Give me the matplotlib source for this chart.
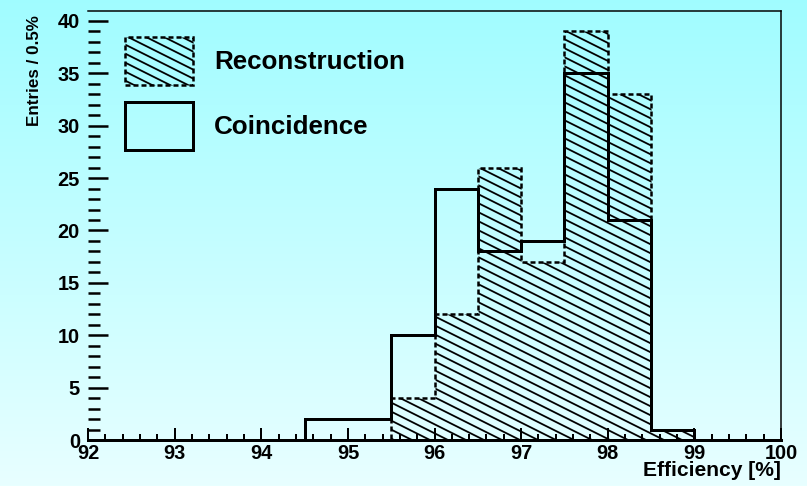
"""Efficiency histogram: reconstruction vs coincidence, ROOT-style look."""

import numpy as np
import matplotlib

matplotlib.use("Agg")
import matplotlib.hatch as mhatch
import matplotlib.pyplot as plt
from matplotlib.patches import Patch
from matplotlib.path import Path
from matplotlib.ticker import MultipleLocator

# bin edges (0.5 % wide) and counts per bin
edges = [92.0, 92.5, 93.0, 93.5, 94.0, 94.5, 95.0, 95.5, 96.0,
         96.5, 97.0, 97.5, 98.0, 98.5, 99.0, 99.5, 100.0]
reconstruction = [0, 0, 0, 0, 0, 0, 0, 4, 12, 26, 17, 39, 33, 1, 0, 0]
coincidence = [0, 0, 0, 0, 0, 2, 2, 10, 24, 18, 19, 35, 21, 1, 0, 0]
labels = ["Reconstruction", "Coincidence"]
xticks = [92, 93, 94, 95, 96, 97, 98, 99, 100]
yticks = [0, 5, 10, 15, 20, 25, 30, 35, 40]


class ShallowSouthEastHatch(mhatch.HatchPatternBase):
    """'\\' hatch at a shallow slope (1/2) like the old ROOT plot, not 45 deg."""

    def __init__(self, hatch, density):
        self.num_lines = 15 if hatch.count("\\") else 0
        self.num_vertices = self.num_lines * 2

    def set_vertices_and_codes(self, vertices, codes):
        c = (np.arange(self.num_lines) - 1) * 0.125  # periodic in the tile
        vertices[0::2, 0] = -0.1
        vertices[0::2, 1] = c + 0.05
        vertices[1::2, 0] = 1.1
        vertices[1::2, 1] = c - 0.55
        codes[0::2] = Path.MOVETO
        codes[1::2] = Path.LINETO


mhatch._hatch_types[mhatch._hatch_types.index(mhatch.SouthEastHatch)] = ShallowSouthEastHatch

plt.rcParams["font.family"] = ["Liberation Sans", "DejaVu Sans"]
plt.rcParams["font.weight"] = "bold"
plt.rcParams["hatch.linewidth"] = 1.8

W, H, DPI = 807, 486, 72
fig = plt.figure(figsize=(W / DPI, H / DPI), dpi=DPI)

# cyan vertical gradient behind everything
bg = fig.add_axes([0, 0, 1, 1], zorder=-10)
top_c = np.array([0.63, 0.99, 1.0])
bot_c = np.array([0.91, 1.0, 1.0])
t = np.linspace(0, 1, 256)[:, None, None]
bg.imshow(top_c * (1 - t) + bot_c * t, aspect="auto", extent=[0, 1, 0, 1])
bg.axis("off")

ax = fig.add_axes([88 / W, 46 / H, (781 - 88) / W, (440 - 11) / H])
ax.set_facecolor("none")

dash = (0, (2, 1.2))
ax.stairs(reconstruction, edges, fill=True, facecolor="none", edgecolor="black",
          hatch="\\", linewidth=2.5, linestyle=dash)
ax.stairs(coincidence, edges, color="black", linewidth=3)

ax.set_xlim(92, 100)
ax.set_ylim(0, 40.95)
ax.set_xticks(xticks)
ax.set_yticks(yticks)
ax.xaxis.set_minor_locator(MultipleLocator(0.2))
ax.yaxis.set_minor_locator(MultipleLocator(1))

ax.spines["left"].set_visible(False)
ax.spines["top"].set_linewidth(1.5)
ax.spines["right"].set_linewidth(1.5)
ax.spines["bottom"].set_linewidth(3)

ax.tick_params(axis="y", which="major", direction="in", length=20, width=2.5,
               labelsize=20, pad=8)
ax.tick_params(axis="y", which="minor", direction="in", length=12, width=2.5)
ax.tick_params(axis="x", which="major", direction="in", length=12, width=2,
               labelsize=20, pad=4)
ax.tick_params(axis="x", which="minor", direction="in", length=6, width=2)

ax.set_ylabel("Entries / 0.5%", fontsize=17, fontweight="bold", loc="top")
ax.yaxis.set_label_coords(-0.066, 0.99)
ax.set_xlabel("Efficiency [%]", fontsize=21, fontweight="bold", loc="right")
ax.xaxis.set_label_coords(1.0, -0.05)

handles = [
    Patch(facecolor="none", edgecolor="black", hatch="\\", linewidth=2.5, linestyle=dash),
    Patch(facecolor="none", edgecolor="black", linewidth=3),
]
fs = 26
ax.legend(handles, labels, loc="upper left",
          bbox_to_anchor=(125 / W, 1 - 37 / H), bbox_transform=fig.transFigure,
          frameon=False, prop={"size": fs, "weight": "bold"},
          handlelength=68 / fs, handleheight=2.46, handletextpad=21 / fs,
          labelspacing=17 / fs, borderpad=0, borderaxespad=0)

fig.savefig("out.png", dpi=DPI)
